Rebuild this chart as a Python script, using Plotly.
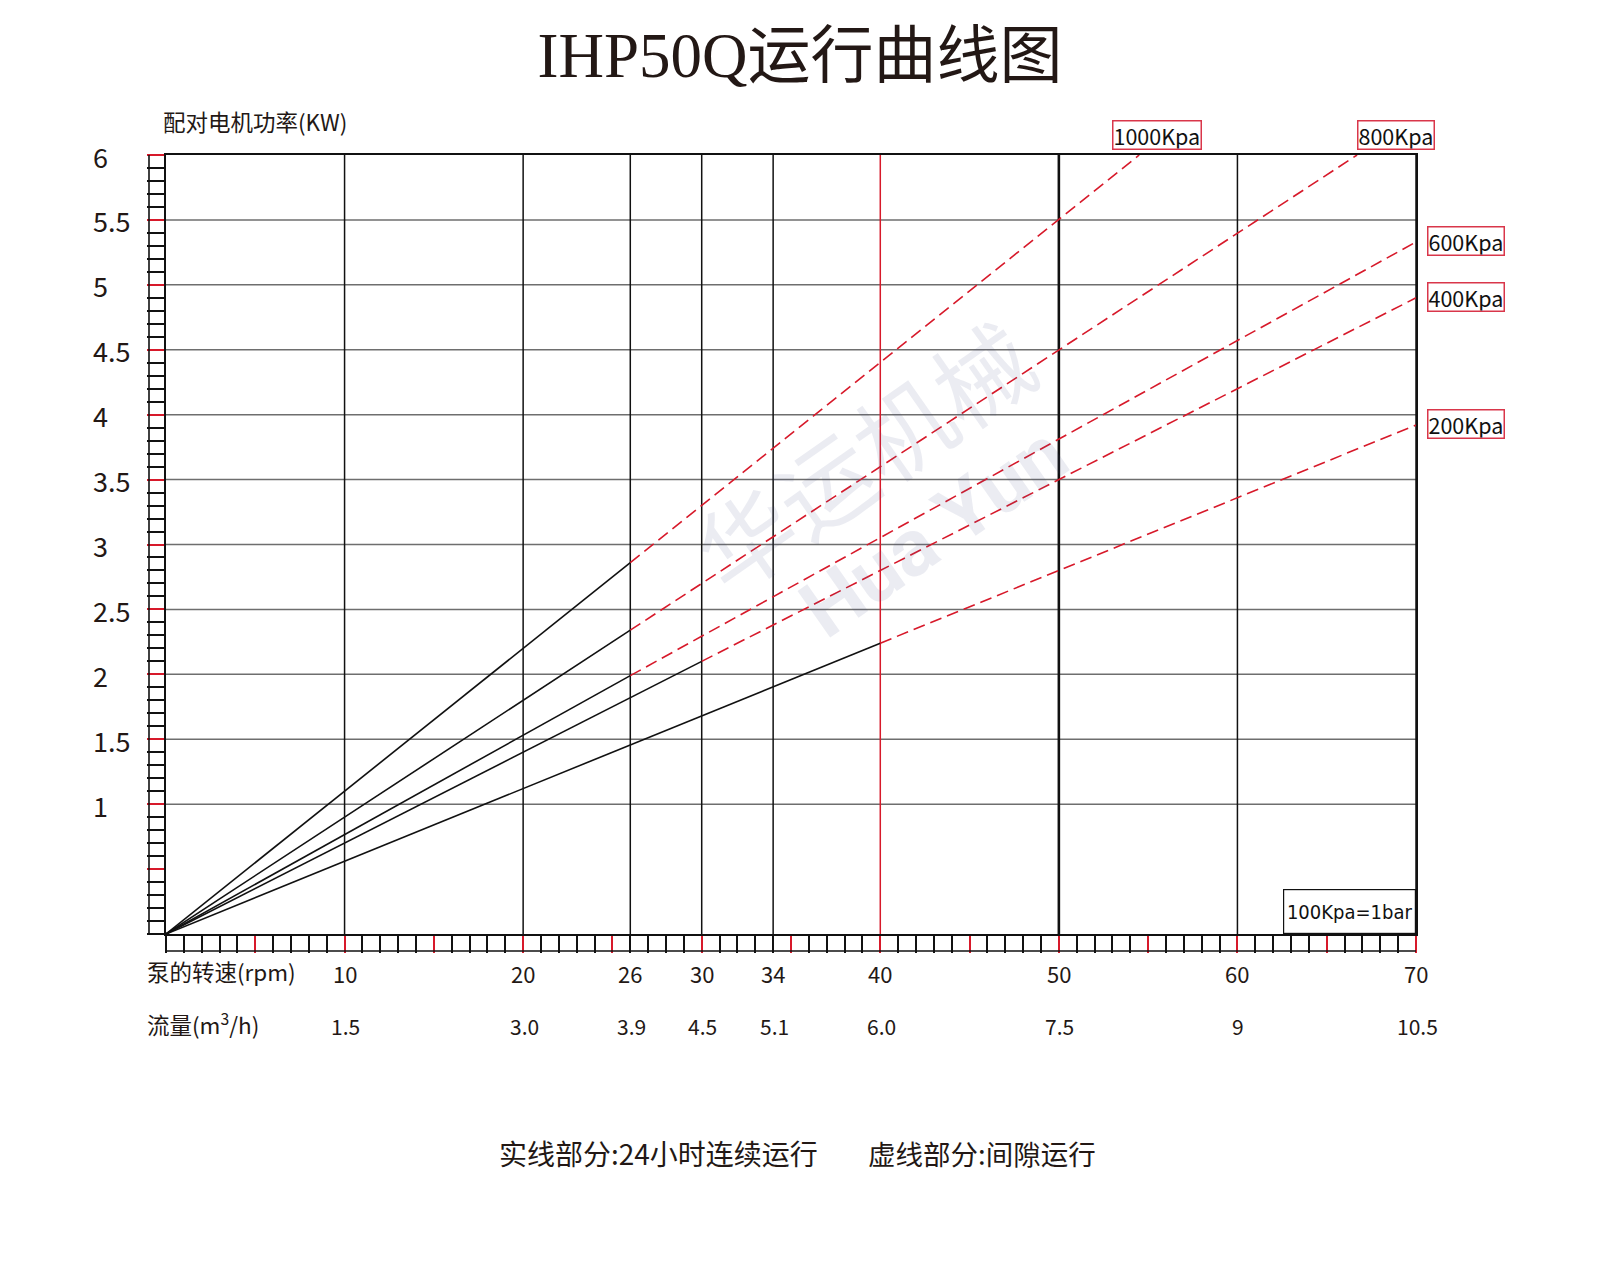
import plotly.graph_objects as go

# ---------------- data ----------------
rpm_ticks = [10, 20, 26, 30, 34, 40, 50, 60, 70]
flow_labels = ["1.5", "3.0", "3.9", "4.5", "5.1", "6.0", "7.5", "9", "10.5"]
y_grid = [1, 1.5, 2, 2.5, 3, 3.5, 4, 4.5, 5, 5.5]
y_tick_vals = [1, 1.5, 2, 2.5, 3, 3.5, 4, 4.5, 5, 5.5, 6]
y_tick_text = ["1", "1.5", "2", "2.5", "3", "3.5", "4", "4.5", "5", "5.5", "6"]

pressures = ["1000Kpa", "800Kpa", "600Kpa", "400Kpa", "200Kpa"]
solid_end_rpm = [26, 26, 26, 30, 40]
solid_end_kw = [2.86, 2.34, 1.99, 2.10, 2.24]
dash_end_rpm = [54.5, 66.7, 70, 70, 70]
dash_end_kw = [6.0, 6.0, 5.33, 4.90, 3.92]

# ---------------- style ----------------
TXT = "#231815"
RED = "#d7192a"
BOXRED = "#d9364a"
SANS = "Noto Sans CJK SC, Noto Sans, sans-serif"
W, H = 1584, 1248   # page body adds an 8px margin

fig = go.Figure()

for i, name in enumerate(pressures):
    fig.add_trace(go.Scatter(
        x=[0, solid_end_rpm[i]], y=[0, solid_end_kw[i]],
        mode="lines", line=dict(color="#111111", width=1.6),
        showlegend=False, hoverinfo="skip"))
    fig.add_trace(go.Scatter(
        x=[solid_end_rpm[i], dash_end_rpm[i]], y=[solid_end_kw[i], dash_end_kw[i]],
        mode="lines", line=dict(color=RED, width=1.6, dash="12px,6px"),
        showlegend=False, hoverinfo="skip"))

shapes = []
for v in y_grid:
    shapes.append(dict(type="line", xref="paper", yref="y", x0=0, x1=1, y0=v, y1=v,
                       line=dict(color="#6e6e6e", width=1.5), layer="below"))
for v in rpm_ticks:
    col = RED if v == 40 else "#111111"
    w = 2.6 if v == 50 else 1.5
    shapes.append(dict(type="line", xref="x", yref="paper", x0=v, x1=v, y0=0, y1=1,
                       line=dict(color=col, width=w), layer="below"))
# outer edges of the ladder scales
shapes.append(dict(type="line", xref="paper", yref="paper", xsizemode="pixel", xanchor=0,
                   x0=-17, x1=-17, y0=0, y1=1, line=dict(color="#111111", width=1.6)))
shapes.append(dict(type="line", xref="paper", yref="paper", ysizemode="pixel", yanchor=0,
                   y0=-17, y1=-17, x0=0, x1=1, line=dict(color="#111111", width=1.6)))

annotations = []
# faint watermark
annotations.append(dict(xref="x", yref="y", x=39.0, y=3.7, text="华运机械", textangle=-35,
                        showarrow=False, font=dict(family=SANS, size=96, color="rgba(70,85,140,0.11)")))
annotations.append(dict(xref="x", yref="y", x=43.0, y=3.1, text="<b>Hua Yun</b>", textangle=-35,
                        showarrow=False, font=dict(family="Roboto, sans-serif", size=80,
                                                   color="rgba(70,85,140,0.11)")))
for v, t in zip(y_tick_vals, y_tick_text):
    annotations.append(dict(xref="paper", yref="y", x=0, y=v, xanchor="left", yanchor="middle",
                            xshift=-75, yshift=-1, text=t, showarrow=False,
                            font=dict(family=SANS, size=27, color=TXT)))
for v, f in zip(rpm_ticks, flow_labels):
    annotations.append(dict(xref="x", yref="paper", x=v, y=0, xanchor="center", yanchor="middle",
                            yshift=-39, text=str(v), showarrow=False,
                            font=dict(family=SANS, size=22, color=TXT)))
    annotations.append(dict(xref="x", yref="paper", x=v, y=0, xanchor="center", yanchor="middle",
                            xshift=1, yshift=-92, text=f, showarrow=False,
                            font=dict(family=SANS, size=21, color=TXT)))
annotations.append(dict(xref="paper", yref="paper", x=0, y=0, xanchor="left", yanchor="middle",
                        xshift=-21, yshift=-37, text="泵的转速(rpm)", showarrow=False,
                        font=dict(family=SANS, size=22.5, color=TXT)))
annotations.append(dict(xref="paper", yref="paper", x=0, y=0, xanchor="left", yanchor="middle",
                        xshift=-21, yshift=-89, text="流量(m<sup>3</sup>/h)", showarrow=False,
                        font=dict(family=SANS, size=22.5, color=TXT)))
annotations.append(dict(xref="paper", yref="paper", x=0, y=1, xanchor="left", yanchor="middle",
                        xshift=-5, yshift=34, text="配对电机功率(KW)", showarrow=False,
                        font=dict(family=SANS, size=22.5, color=TXT)))
top_shift = [-27, 0]
for i, name in enumerate(pressures):
    common = dict(xref="x", yref="y", x=dash_end_rpm[i], y=dash_end_kw[i], text=name,
                  showarrow=False, bordercolor=BOXRED, borderwidth=1.5, borderpad=0, height=27,
                  bgcolor="white", font=dict(family=SANS, size=21.5, color="#111111"))
    if dash_end_kw[i] >= 6.0:
        annotations.append(dict(common, xanchor="left", yanchor="bottom",
                                xshift=top_shift[i], yshift=5))
    else:
        annotations.append(dict(common, xanchor="left", yanchor="middle", xshift=11, yshift=1))
annotations.append(dict(xref="paper", yref="paper", x=1, y=0, xanchor="right", yanchor="bottom",
                        text="100Kpa=1bar", showarrow=False, bordercolor="#111111", borderwidth=1.2,
                        borderpad=0, width=131, height=43, bgcolor="white",
                        font=dict(family="Liberation Sans Narrow, DejaVu Sans Condensed, Roboto, sans-serif",
                                  size=20, color="#111111")))
annotations.append(dict(xref="paper", yref="paper", x=0.5232, y=0, xanchor="right", yanchor="middle",
                        yshift=-219, text="实线部分:24小时连续运行", showarrow=False,
                        font=dict(family=SANS, size=28, color=TXT)))
annotations.append(dict(xref="paper", yref="paper", x=0.5600, y=0, xanchor="left", yanchor="middle",
                        yshift=-219, text="虚线部分:间隙运行", showarrow=False,
                        font=dict(family=SANS, size=27.5, color=TXT)))

fig.update_layout(
    width=W, height=H,
    margin=dict(l=158, r=176, t=147, b=322, pad=0),
    paper_bgcolor="white", plot_bgcolor="white",
    title=dict(text="IHP50Q运行曲线图", x=0.5, xanchor="center", y=1 - 47 / H, yanchor="middle",
               font=dict(family="Liberation Serif, Noto Sans CJK SC, serif", size=63, color=TXT)),
    shapes=shapes, annotations=annotations,
    xaxis=dict(range=[0, 70], showgrid=False, zeroline=False, showticklabels=False,
               showline=True, linecolor="#111111", linewidth=1.6, mirror=True,
               tickmode="array", tickvals=[5, 10, 15, 20, 25, 30, 35, 40, 45, 50, 55, 60, 65, 70],
               ticks="outside", ticklen=17, tickwidth=2, tickcolor=RED,
               minor=dict(ticks="outside", ticklen=17, tickwidth=1.5, tickcolor="#111111",
                          tickmode="linear", tick0=0, dtick=1)),
    yaxis=dict(range=[0, 6], showgrid=False, zeroline=False, showticklabels=False,
               showline=True, linecolor="#111111", linewidth=1.6, mirror=True,
               tickmode="array", tickvals=[0.5, 1, 1.5, 2, 2.5, 3, 3.5, 4, 4.5, 5, 5.5, 6],
               ticks="outside", ticklen=17, tickwidth=2, tickcolor=RED,
               minor=dict(ticks="outside", ticklen=17, tickwidth=1.5, tickcolor="#111111",
                          tickmode="linear", tick0=0, dtick=0.1)),
)

fig.write_html("out.html")
